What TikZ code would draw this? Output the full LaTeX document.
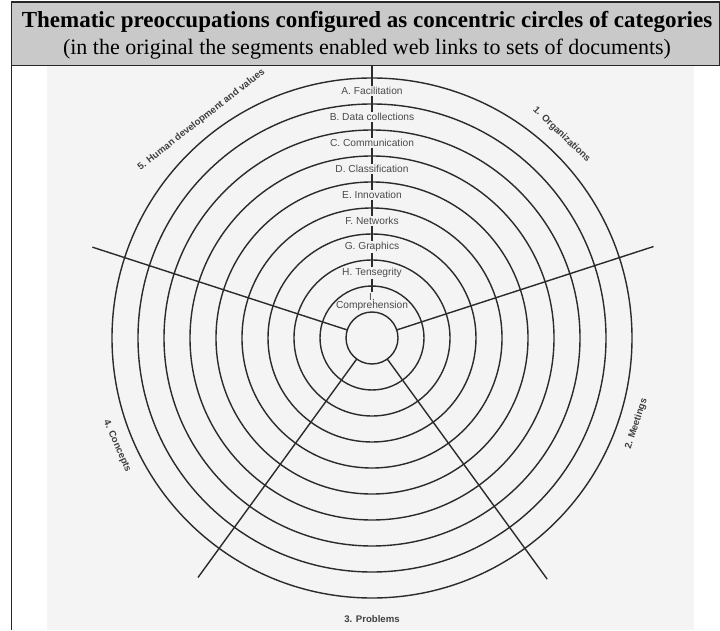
\documentclass[tikz,border=0pt]{standalone}
\usepackage{fontspec}
\setmainfont{Liberation Serif}
\setsansfont{Liberation Sans}
\usetikzlibrary{calc}

\definecolor{headergray}{HTML}{C9C9C9}
\definecolor{scanpaper}{HTML}{F4F4F4}
\definecolor{ink}{HTML}{2B2B2B}
\definecolor{printgray}{HTML}{4A4A4A}

\begin{document}
\begin{tikzpicture}[x=1pt,y=1pt,
                    ring/.style={ink,line width=1.4pt},
                    spoke/.style={ink,line width=1.4pt},
                    theme/.style={font=\sffamily\fontsize{10.2}{10}\selectfont,text=printgray,fill=scanpaper,inner sep=1pt},
                    category/.style={font=\sffamily\bfseries\fontsize{9.6}{10}\selectfont,text=ink!90},
                    caption/.style={inner sep=0pt}]
      \useasboundingbox (0,0) rectangle (720,630);
      \fill[white] (0,0) rectangle (720,630);
      \fill[scanpaper] (47,0) rectangle (694,564);

      \coordinate (hub) at (372,292);

      % the fifth spoke runs up through the theme labels
      \draw[spoke] (hub) ++(90:26) -- ++(90:246);

      \node[theme] (facilitation) at ($(hub)+(0,247)$) {A. Facilitation};
      \node[theme] (datacoll) at ($(hub)+(0,221)$) {B. Data collections};
      \node[theme] (communication) at ($(hub)+(0,195)$) {C. Communication};
      \node[theme] (classification) at ($(hub)+(0,169)$) {D. Classification};
      \node[theme] (innovation) at ($(hub)+(0,143)$) {E. Innovation};
      \node[theme] (networks) at ($(hub)+(0,117)$) {F. Networks};
      \node[theme] (graphics) at ($(hub)+(0,91)$) {G. Graphics};
      \node[theme] (tensegrity) at ($(hub)+(0,65)$) {H. Tensegrity};
      \node[theme,align=center] (comprehension) at ($(hub)+(0,36)$) {I.\\[-1.5pt]Comprehension};

      \draw[ring] (hub) circle[radius=260];
      \draw[ring] (hub) circle[radius=234];
      \draw[ring] (hub) circle[radius=208];
      \draw[ring] (hub) circle[radius=182];
      \draw[ring] (hub) circle[radius=156];
      \draw[ring] (hub) circle[radius=130];
      \draw[ring] (hub) circle[radius=104];
      \draw[ring] (hub) circle[radius=78];
      \draw[ring] (hub) circle[radius=52];
      \draw[ring] (hub) circle[radius=26];

      \draw[spoke] (hub) ++(18:26) -- ++(18:270);
      \draw[spoke] (hub) ++(-54:26) -- ++(-54:272);
      \draw[spoke] (hub) ++(-126:26) -- ++(-126:270);
      \draw[spoke] (hub) ++(162:26) -- ++(162:268);

      \node[category,rotate=-44] (organizations) at ($(hub)+(47:278)$) {1. Organizations};
      \node[category,rotate=72] (meetings) at ($(hub)+(-18:278)$) {2. Meetings};
      \node[category] (problems) at ($(hub)+(-90:281)$) {3. Problems};
      \node[category,rotate=-66] (concepts) at ($(hub)+(203:277)$) {4. Concepts};
      \node[category,rotate=38] (humandev) at ($(hub)+(128:277)$) {5. Human development and values};

      % caption box over the top
      \draw[black!85,line width=1pt] (11,0) -- (11,564);
      \draw[fill=headergray,draw=black!85,line width=1pt] (11,564) rectangle (719.5,628);
      \draw[black!85,line width=2.5pt] (11,628) -- (720,628);
      \node[caption,font=\bfseries\fontsize{23}{23}\selectfont] (title) at (367,608) {Thematic preoccupations configured as concentric circles of categories};
      \node[caption,font=\fontsize{22}{22}\selectfont] (subtitle) at (367,581) {(in the original the segments enabled web links to sets of documents)};
\end{tikzpicture}
\end{document}
